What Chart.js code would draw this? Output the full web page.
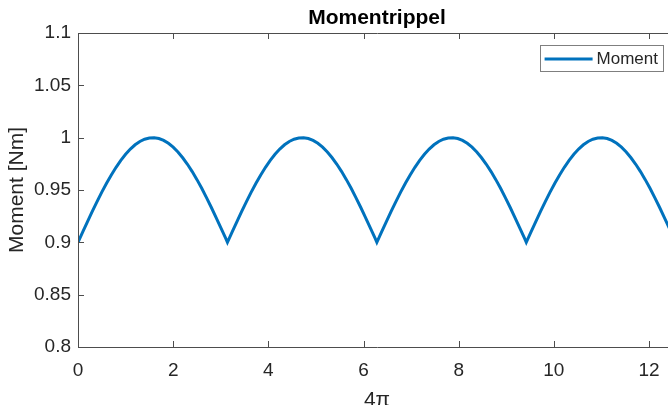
<!DOCTYPE html>
<html>
<head>
<meta charset="utf-8">
<script src="https://cdn.jsdelivr.net/npm/chart.js@4.4.1/dist/chart.umd.min.js"></script>
<style>
  html, body { margin: 0; padding: 0; background: #fff; overflow: hidden; }
  #wrap { width: 700px; height: 405px; position: relative; }
</style>
</head>
<body>
<div id="wrap"><canvas id="c" width="700" height="405"></canvas></div>
<script>
// Data
const xValues = [
  0.00, 0.10, 0.20, 0.30, 0.40, 0.50, 0.60, 0.70, 0.80, 0.90, 1.00, 1.10, 1.20, 1.30, 1.40, 1.50, 1.60, 1.70, 1.80, 1.90, 2.00, 2.10, 2.20, 2.30, 2.40, 2.50, 2.60, 2.70, 2.80, 2.90, 3.00, 3.10, 3.14,
  3.24, 3.34, 3.44, 3.54, 3.64, 3.74, 3.84, 3.94, 4.04, 4.14, 4.24, 4.34, 4.44, 4.54, 4.64, 4.74, 4.84, 4.94, 5.04, 5.14, 5.24, 5.34, 5.44, 5.54, 5.64, 5.74, 5.84, 5.94, 6.04, 6.14, 6.24, 6.28,
  6.38, 6.48, 6.58, 6.68, 6.78, 6.88, 6.98, 7.08, 7.18, 7.28, 7.38, 7.48, 7.58, 7.68, 7.78, 7.88, 7.98, 8.08, 8.18, 8.28, 8.38, 8.48, 8.58, 8.68, 8.78, 8.88, 8.98, 9.08, 9.18, 9.28, 9.38, 9.42,
  9.52, 9.62, 9.72, 9.82, 9.92, 10.02, 10.12, 10.22, 10.32, 10.42, 10.52, 10.62, 10.72, 10.82, 10.92, 11.02, 11.12, 11.22, 11.32, 11.42, 11.52, 11.62, 11.72, 11.82, 11.92, 12.02, 12.12, 12.22, 12.32, 12.42, 12.52, 12.57
];
const momentValues = [
  0.9000, 0.9100, 0.9199, 0.9296, 0.9389, 0.9479, 0.9565, 0.9644, 0.9717, 0.9783, 0.9841, 0.9891, 0.9932, 0.9964, 0.9985, 0.9997, 1.0000, 0.9992, 0.9974, 0.9946, 0.9909, 0.9863, 0.9808, 0.9746, 0.9676, 0.9599, 0.9516, 0.9427, 0.9335, 0.9239, 0.9141, 0.9042, 0.9000,
  0.9100, 0.9199, 0.9296, 0.9389, 0.9479, 0.9565, 0.9644, 0.9717, 0.9783, 0.9841, 0.9891, 0.9932, 0.9964, 0.9985, 0.9997, 1.0000, 0.9992, 0.9974, 0.9946, 0.9909, 0.9863, 0.9808, 0.9746, 0.9676, 0.9599, 0.9516, 0.9427, 0.9335, 0.9239, 0.9141, 0.9042, 0.9000,
  0.9100, 0.9199, 0.9296, 0.9389, 0.9479, 0.9565, 0.9644, 0.9717, 0.9783, 0.9841, 0.9891, 0.9932, 0.9964, 0.9985, 0.9997, 1.0000, 0.9992, 0.9974, 0.9946, 0.9909, 0.9863, 0.9808, 0.9746, 0.9676, 0.9599, 0.9516, 0.9427, 0.9335, 0.9239, 0.9141, 0.9042, 0.9000,
  0.9100, 0.9199, 0.9296, 0.9389, 0.9479, 0.9565, 0.9644, 0.9717, 0.9783, 0.9841, 0.9891, 0.9932, 0.9964, 0.9985, 0.9997, 1.0000, 0.9992, 0.9974, 0.9946, 0.9909, 0.9863, 0.9808, 0.9746, 0.9676, 0.9599, 0.9516, 0.9427, 0.9335, 0.9239, 0.9141, 0.9042, 0.9000
];
const xTicks = [0, 2, 4, 6, 8, 10, 12];
const yTicks = [0.8, 0.85, 0.9, 0.95, 1, 1.05, 1.1];
const seriesLabel = 'Moment';
const chartTitle = 'Momentrippel';
const xTitle = '4\u03C0';
const yTitle = 'Moment [Nm]';

const FONT = "'Liberation Sans', Arial, Helvetica, sans-serif";
const AXIS = '#4d4d4d';
const TXT = '#262626';
const BLUE = '#0072BD';

const points = xValues.map((x, i) => ({ x: x, y: momentValues[i] }));

const frame = {
  id: 'frame',
  afterDraw(chart) {
    const ctx = chart.ctx, a = chart.chartArea;
    const xs = chart.scales.x, ys = chart.scales.y;
    ctx.save();
    ctx.strokeStyle = AXIS;
    ctx.lineWidth = 1;
    ctx.beginPath();
    ctx.moveTo(a.left + 0.5, a.top + 0.5); ctx.lineTo(a.left + 0.5, a.bottom + 0.5);
    ctx.lineTo(a.right + 0.5, a.bottom + 0.5); ctx.lineTo(a.right + 0.5, a.top + 0.5);
    ctx.lineTo(a.left + 0.5, a.top + 0.5);
    const tl = 6;
    xTicks.forEach(v => {
      const px = Math.round(xs.getPixelForValue(v)) + 0.5;
      ctx.moveTo(px, a.bottom); ctx.lineTo(px, a.bottom - tl);
      ctx.moveTo(px, a.top); ctx.lineTo(px, a.top + tl);
    });
    yTicks.forEach(v => {
      const py = Math.round(ys.getPixelForValue(v)) + 0.5;
      ctx.moveTo(a.left, py); ctx.lineTo(a.left + tl, py);
      ctx.moveTo(a.right, py); ctx.lineTo(a.right - tl, py);
    });
    ctx.stroke();

    // titles
    ctx.fillStyle = '#000';
    ctx.textAlign = 'center';
    ctx.textBaseline = 'alphabetic';
    ctx.font = 'bold 21px ' + FONT;
    ctx.fillText(chartTitle, (a.left + a.right) / 2, 24);
    ctx.fillStyle = TXT;
    ctx.font = '21px ' + FONT;
    ctx.fillText(xTitle, (a.left + a.right) / 2, 406);
    ctx.save();
    ctx.translate(23, (a.top + a.bottom) / 2);
    ctx.rotate(-Math.PI / 2);
    ctx.fillText(yTitle, 0, 0);
    ctx.restore();

    // legend box (northeast, inside axes)
    const ds = chart.data.datasets[0];
    ctx.font = '17px ' + FONT;
    const tw = ctx.measureText(ds.label).width;
    const bw = 5 + 48 + 4 + tw + 5, bh = 26;
    const bx = a.right - 13 - bw, by = a.top + 12;
    ctx.fillStyle = '#fff';
    ctx.fillRect(bx, by, bw, bh);
    ctx.strokeStyle = '#7f7f7f';
    ctx.lineWidth = 1;
    ctx.strokeRect(Math.round(bx) + 0.5, Math.round(by) + 0.5, Math.round(bw), bh);
    ctx.strokeStyle = ds.borderColor;
    ctx.lineWidth = ds.borderWidth;
    ctx.beginPath();
    ctx.moveTo(bx + 5, by + bh / 2 + 1); ctx.lineTo(bx + 53, by + bh / 2 + 1);
    ctx.stroke();
    ctx.fillStyle = TXT;
    ctx.textBaseline = 'middle';
    ctx.textAlign = 'left';
    ctx.fillText(ds.label, bx + 57, by + bh / 2 + 1);
    ctx.restore();
  }
};

new Chart(document.getElementById('c'), {
  type: 'line',
  data: {
    datasets: [{
      label: seriesLabel,
      data: points,
      borderColor: BLUE,
      backgroundColor: BLUE,
      borderWidth: 3,
      pointRadius: 0,
      tension: 0,
      fill: false
    }]
  },
  options: {
    responsive: false,
    animation: false,
    events: [],
    layout: { padding: { left: 0, right: 24, top: 33, bottom: 0 } },
    plugins: {
      legend: { display: false },
      tooltip: { enabled: false },
      title: { display: false }
    },
    scales: {
      x: {
        type: 'linear',
        min: 0,
        max: 4 * Math.PI,
        afterFit(s) { s.height = 58; },
        afterBuildTicks(s) { s.ticks = xTicks.map(v => ({ value: v })); },
        border: { display: false },
        grid: { display: false, drawTicks: false },
        ticks: {
          color: TXT,
          padding: 12,
          maxRotation: 0,
          autoSkip: false,
          font: { family: FONT, size: 19 },
          callback: v => String(v)
        },
        title: { display: false }
      },
      y: {
        type: 'linear',
        min: 0.8,
        max: 1.1,
        afterFit(s) { s.width = 78; },
        afterBuildTicks(s) { s.ticks = yTicks.map(v => ({ value: v })); },
        border: { display: false },
        grid: { display: false, drawTicks: false },
        ticks: {
          color: TXT,
          padding: 7,
          autoSkip: false,
          font: { family: FONT, size: 19 },
          callback: v => String(Math.round(v * 100) / 100)
        },
        title: { display: false }
      }
    }
  },
  plugins: [frame]
});
</script>
</body>
</html>
